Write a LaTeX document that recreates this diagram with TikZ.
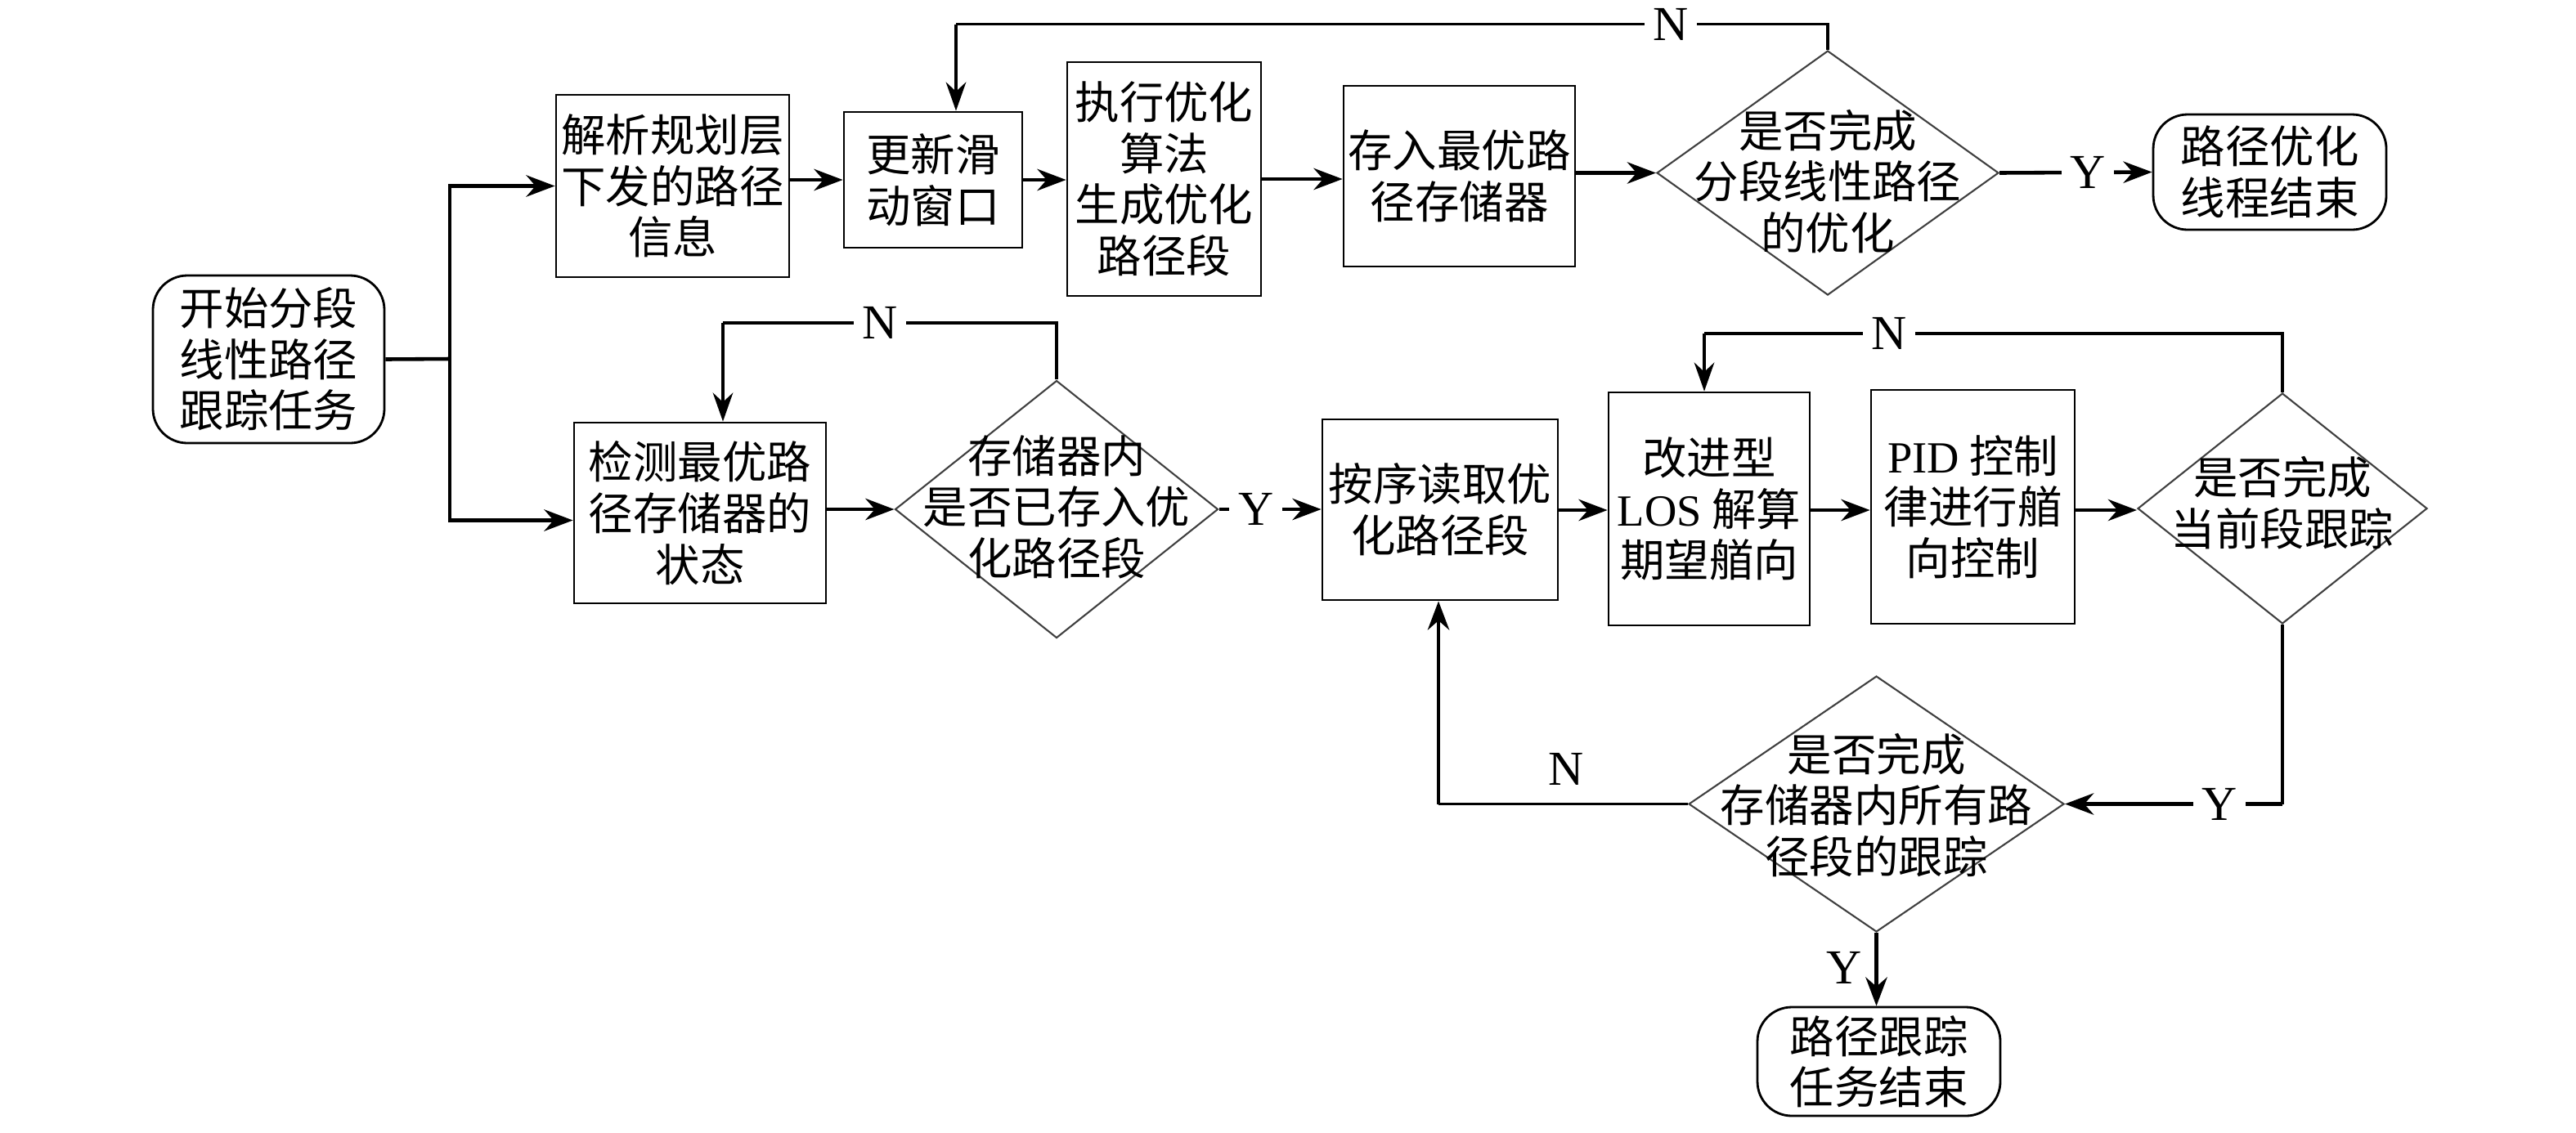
\documentclass[tikz,border=0pt]{standalone}
\usepackage{fontspec}
\setmainfont{Noto Sans CJK SC}
\newfontfamily\lat{Liberation Serif}
\usetikzlibrary{shapes.geometric,arrows.meta}
\begin{document}
\begin{tikzpicture}[x=1cm,y=1cm,
 font=\fontsize{15.5}{17.8}\selectfont,
 box/.style={draw, line width=0.8pt, align=center, inner sep=0pt},
 term/.style={box, rounded corners=0.42cm},
 dia/.style={draw=black!75, line width=0.6pt, diamond, inner sep=0pt},
 txt/.style={align=center, inner sep=0pt},
 arr/.style={line width=1.3pt, -{Stealth[length=10pt,width=7.5pt]}},
 ln/.style={line width=1.3pt},
 lp/.style={line width=1pt},
 lparr/.style={line width=1pt, -{Stealth[length=10pt,width=7pt]}},
 lab/.style={font=\lat\fontsize{17}{17}\selectfont, fill=white, inner sep=3pt}
]
\useasboundingbox (0,0) rectangle (31.5,-13.85);

% nodes
\node[term, minimum width=2.83cm, minimum height=2.05cm] (start) at (3.285,-4.395) {开始分段\\线性路径\\跟踪任务};
\node[box, minimum width=2.85cm, minimum height=2.23cm] (jiexi) at (8.225,-2.275) {解析规划层\\下发的路径\\信息};
\node[box, minimum width=2.18cm, minimum height=1.66cm] (gengxin) at (11.41,-2.20) {更新滑\\动窗口};
\node[box, minimum width=2.37cm, minimum height=2.86cm] (zhixing) at (14.235,-2.19) {执行优化\\算法\\生成优化\\路径段};
\node[box, minimum width=2.83cm, minimum height=2.21cm] (cunru) at (17.845,-2.155) {存入最优路\\径存储器};
\node[dia, minimum width=4.18cm, minimum height=2.99cm] (d2) at (22.35,-2.115) {};
\node[txt] (d2t) at (22.35,-2.22) {是否完成\\分段线性路径\\的优化};
\node[term, minimum width=2.85cm, minimum height=1.41cm] (end1) at (27.755,-2.105) {路径优化\\线程结束};

\node[box, minimum width=3.08cm, minimum height=2.21cm] (jiance) at (8.56,-6.275) {检测最优路\\径存储器的\\状态};
\node[dia, minimum width=3.95cm, minimum height=3.15cm] (d1) at (12.92,-6.23) {};
\node[txt] (d1t) at (12.92,-6.20) {存储器内\\是否已存入优\\化路径段};
\node[box, minimum width=2.88cm, minimum height=2.21cm] (anxu) at (17.61,-6.235) {按序读取优\\化路径段};
\node[box, minimum width=2.46cm, minimum height=2.85cm] (gaijin) at (20.90,-6.225) {改进型\\{\lat LOS} 解算\\期望艏向};
\node[box, minimum width=2.49cm, minimum height=2.86cm] (pid) at (24.125,-6.20) {{\lat PID} 控制\\律进行艏\\向控制};
\node[dia, minimum width=3.54cm, minimum height=2.82cm] (d3) at (27.91,-6.22) {};
\node[txt] (d3t) at (27.91,-6.15) {是否完成\\当前段跟踪};
\node[dia, minimum width=4.59cm, minimum height=3.13cm] (d4) at (22.945,-9.835) {};
\node[txt] (d4t) at (22.945,-9.85) {是否完成\\存储器内所有路\\径段的跟踪};
\node[term, minimum width=2.97cm, minimum height=1.33cm] (end2) at (22.975,-12.985) {路径跟踪\\任务结束};

% helper coordinates
\coordinate (br) at (5.50,-4.39);
\coordinate (t1) at (22.35,-0.295);
\coordinate (t2) at (11.69,-0.295);
\coordinate (m1) at (12.92,-3.95);
\coordinate (m2) at (8.84,-3.95);
\coordinate (r1) at (27.91,-4.08);
\coordinate (r2) at (20.84,-4.08);
\coordinate (b1) at (27.91,-9.835);
\coordinate (b2) at (17.59,-9.835);

% connectors top
\draw[ln] (start.east) -- (br);
\draw[arr] (br) |- (jiexi.west);
\draw[arr] (br) |- ([yshift=-0.09cm]jiance.west);
\draw[arr] (jiexi.east |- gengxin.west) -- (gengxin.west);
\draw[arr] (gengxin.east) -- (gengxin.east -| zhixing.west);
\draw[arr] (zhixing.east |- 0,-2.19) -- (cunru.west |- 0,-2.19);
\draw[arr] (cunru.east |- d2.west) -- (d2.west);
\draw[arr] (d2.east) -- node[lab, pos=0.58] (y1) {Y} (end1.west);
\draw[lp] (d2.north) -- (t1) -- node[lab, pos=0.18] (n1) {N} (t2);
\draw[lparr] (t2) -- (t2 |- gengxin.north);

% connectors bottom
\draw[arr] (jiance.east |- d1.west) -- (d1.west);
\draw[lp] (d1.north) -- (m1) -- node[lab, pos=0.53] (n2) {N} (m2);
\draw[lparr] (m2) -- (m2 |- jiance.north);
\draw[arr] (d1.east) -- node[lab, pos=0.36] (y2) {Y} (d1.east -| anxu.west);
\draw[arr] (anxu.east |- 0,-6.24) -- (gaijin.west |- 0,-6.24);
\draw[arr] (gaijin.east |- 0,-6.24) -- (pid.west |- 0,-6.24);
\draw[arr] (pid.east |- 0,-6.24) -- (d3.west |- 0,-6.24);
\draw[lp] (d3.north) -- (r1) -- node[lab, pos=0.68] (n3) {N} (r2);
\draw[lparr] (r2) -- (r2 |- gaijin.north);
\draw[lp] (d3.south) -- (b1);
\draw[arr] (b1) -- node[lab, pos=0.29] (y3) {Y} (d4.east);
\draw[lp] (d4.west) -- (b2);
\draw[arr] (b2) -- (b2 |- anxu.south);
\node[lab, fill=none] (n4) at (19.15,-9.41) {N};
\draw[arr] (d4.south) -- (d4.south |- end2.north);
\node[lab, fill=none] (y4) at (22.55,-11.84) {Y};
\end{tikzpicture}
\end{document}
